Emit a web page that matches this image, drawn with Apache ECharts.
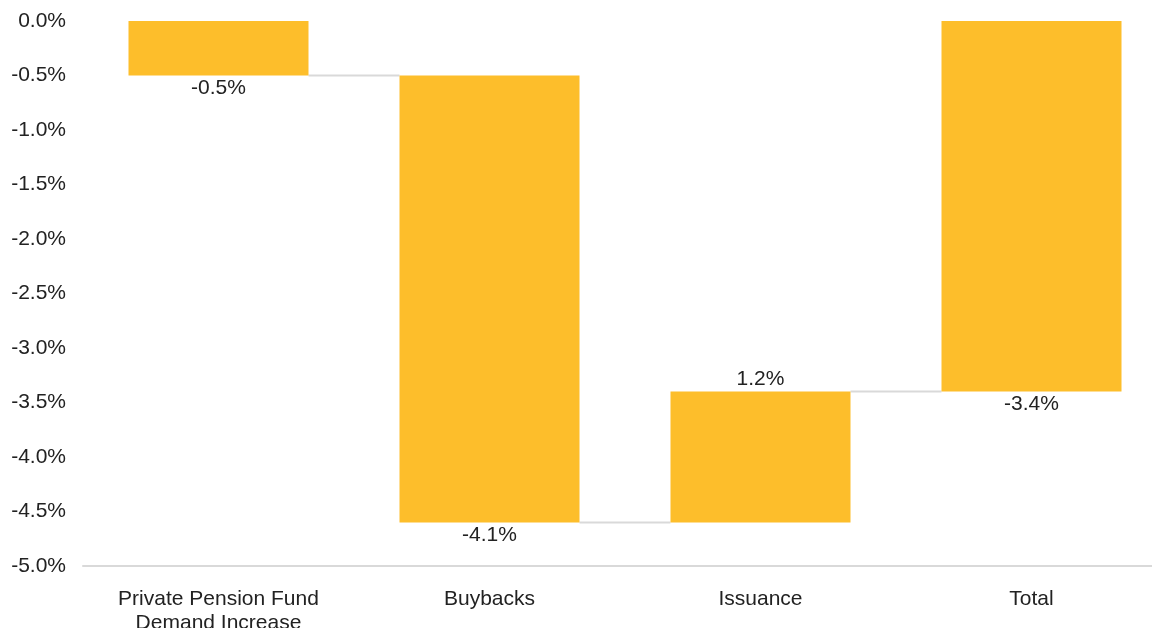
<!DOCTYPE html>
<html lang="en">
<head>
    <meta charset="UTF-8">
    <title>Waterfall</title>
    <script src="https://cdn.jsdelivr.net/npm/echarts@6/dist/echarts.min.js"></script>
    <style>
        html, body { margin: 0; padding: 0; background: #fff; }
    </style>
</head>
<body>
<div id="chart" style="width:1152px;height:628px;"></div>
<script>
    // data
    var categories = ['Private Pension Fund\nDemand Increase', 'Buybacks', 'Issuance', 'Total'];
    var changes = [-0.5, -4.1, 1.2, -3.4];
    var isTotal = [false, false, false, true];
    var yTicks = { min: -5, max: 0, step: 0.5 };

    var barColor = '#FDBE2B';
    var lineColor = '#D9D9D9';
    var barW = 180;
    var fs = 21;

    // running level -> base (transparent) + visible part for each bar
    var baseData = [], showData = [], levels = [];
    var level = 0;
    for (var i = 0; i < changes.length; i++) {
        var barStart = isTotal[i] ? 0 : level;
        var barEnd = isTotal[i] ? changes[i] : +(level + changes[i]).toFixed(2);
        var hi = Math.max(barStart, barEnd), lo = Math.min(barStart, barEnd);
        baseData.push(hi);
        showData.push({
            value: +(lo - hi).toFixed(2),
            label: { position: changes[i] >= 0 ? 'top' : 'bottom' }
        });
        level = barEnd;
        levels.push(barEnd);
    }
    var connectors = [];
    for (i = 0; i < levels.length - 1; i++) {
        connectors.push([i, levels[i]]);
    }

    var ct = echarts.init(document.getElementById('chart'));
    var option = {
        animation: false,
        textStyle: { fontFamily: 'Liberation Sans, Arial, sans-serif' },
        grid: { left: 83, top: 21, bottom: 62, right: -15, outerBoundsMode: 'none', containLabel: false },
        xAxis: {
            type: 'category',
            data: categories,
            axisLine: { onZero: false, lineStyle: { color: lineColor, width: 2 } },
            axisTick: { show: false },
            axisLabel: { color: '#222', fontSize: fs, lineHeight: 24, margin: 21, interval: 0 },
            splitLine: { show: false }
        },
        yAxis: {
            type: 'value',
            min: yTicks.min,
            max: yTicks.max,
            interval: yTicks.step,
            axisLine: { show: false },
            axisTick: { show: false },
            splitLine: { show: false },
            axisLabel: {
                color: '#222', fontSize: fs, margin: 17,
                formatter: function (v) { return v.toFixed(1) + '%'; }
            }
        },
        series: [
            {
                type: 'custom',
                z: 1,
                data: connectors,
                renderItem: function (params, api) {
                    var a = api.coord([api.value(0), api.value(1)]);
                    var b = api.coord([api.value(0) + 1, api.value(1)]);
                    return {
                        type: 'line',
                        shape: { x1: a[0] + barW / 2, y1: a[1], x2: b[0] - barW / 2, y2: b[1] },
                        style: { stroke: lineColor, lineWidth: 2 }
                    };
                }
            },
            {
                type: 'bar',
                stack: 'w',
                barWidth: barW,
                z: 2,
                itemStyle: { color: 'transparent' },
                data: baseData
            },
            {
                type: 'bar',
                stack: 'w',
                barWidth: barW,
                z: 2,
                itemStyle: { color: barColor },
                label: {
                    show: true,
                    color: '#222',
                    fontSize: fs,
                    distance: 2,
                    formatter: function (p) { return changes[p.dataIndex].toFixed(1) + '%'; }
                },
                data: showData
            }
        ]
    };
    ct.setOption(option);
</script>
</body>
</html>
